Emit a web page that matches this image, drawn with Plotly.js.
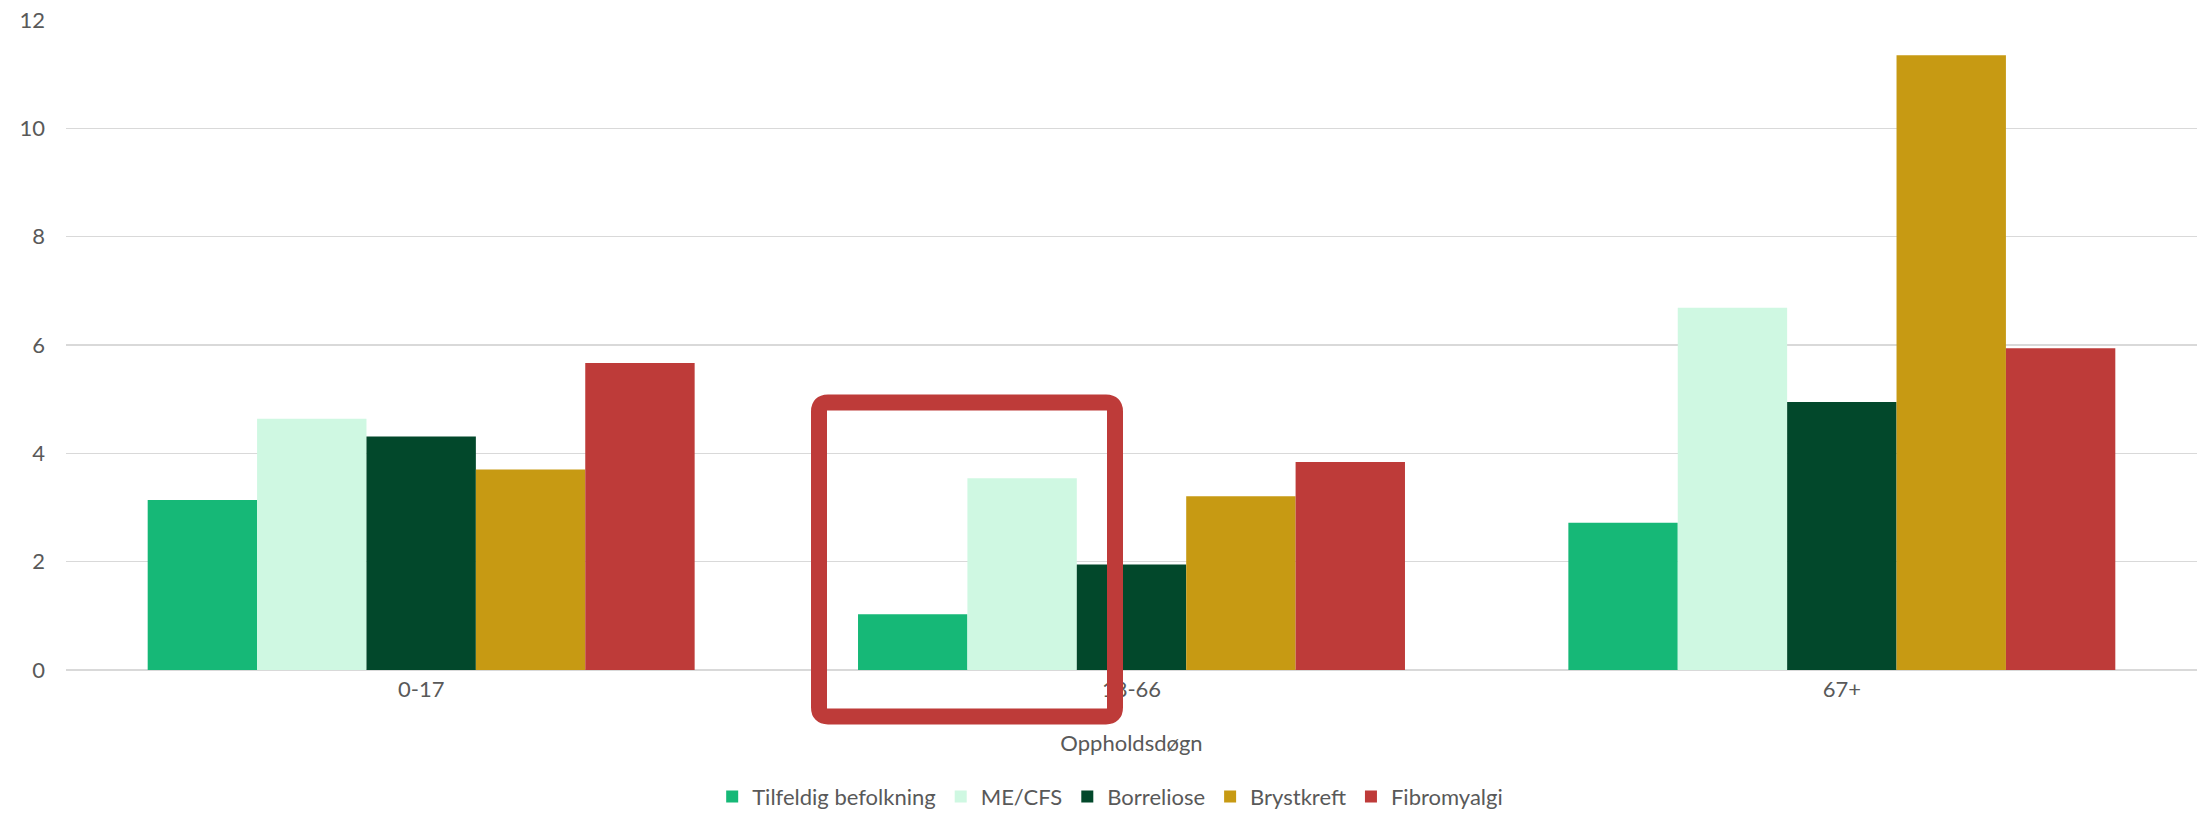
<!DOCTYPE html>
<html>
<head>
<meta charset="utf-8">
<script src="https://cdn.plot.ly/plotly-3.0.1.min.js"></script>
<style>html,body{margin:0;padding:0;background:#fff}#chart{width:2201px;height:813px}</style>
</head>
<body>
<div id="chart"></div>
<script>
const categories = ["0-17", "18-66", "67+"];
const seriesNames = ["Tilfeldig befolkning", "ME/CFS", "Borreliose", "Brystkreft", "Fibromyalgi"];
const tilfeldig = [3.14, 1.03, 2.72];
const mecfs = [4.64, 3.54, 6.69];
const borreliose = [4.31, 1.95, 4.95];
const brystkreft = [3.70, 3.21, 11.35];
const fibromyalgi = [5.67, 3.84, 5.94];
const colors = ["#16b877", "#cff8e2", "#02482b", "#c79a13", "#be3b39"];
const yTicks = [0, 2, 4, 6, 8, 10, 12];
const xTitle = "Oppholdsdøgn";

const values = [tilfeldig, mecfs, borreliose, brystkreft, fibromyalgi];
const traces = values.map((v, i) => ({
  type: "bar",
  name: seriesNames[i],
  x: categories,
  y: v,
  marker: {color: colors[i], line: {width: 0}},
  hoverinfo: "x+y+name"
}));

const fontFam = "Lato, 'Open Sans', sans-serif";
const fs = 22;
const layout = {
  width: 2201, height: 813,
  margin: {l: 66, r: 4, t: 20, b: 143},
  paper_bgcolor: "#ffffff",
  plot_bgcolor: "#ffffff",
  barmode: "group",
  bargap: 0.23,
  bargroupgap: 0,
  font: {family: fontFam, size: fs, color: "#595959"},
  xaxis: {
    type: "category",
    showgrid: false,
    showline: false,
    zeroline: false,
    ticks: "",
    ticklabelstandoff: 4,
    tickfont: {family: fontFam, size: fs, color: "#595959"},
    title: {text: xTitle, standoff: 34, font: {family: fontFam, size: fs, color: "#595959"}}
  },
  yaxis: {
    range: [0, 12],
    tickvals: yTicks,
    ticktext: yTicks.map(String),
    showgrid: true,
    gridcolor: "#d9d9d9",
    gridwidth: 1.5,
    zeroline: true,
    zerolinecolor: "#d9d9d9",
    zerolinewidth: 1.5,
    showline: false,
    ticks: "",
    ticklabelstandoff: 20,
    tickfont: {family: fontFam, size: fs, color: "#595959"}
  },
  legend: {
    orientation: "h",
    x: 0.49, xanchor: "center",
    yref: "container", y: 0.02, yanchor: "middle",
    font: {family: fontFam, size: fs, color: "#595959"},
    itemwidth: 30,
    traceorder: "normal"
  },
  showlegend: true,
  shapes: [(function(){
    const W = 2201 - 66 - 4, H = 813 - 20 - 143;
    const x0 = (819 - 66) / W, x1 = (1115 - 66) / W;
    const yT = (669.6 - 402) / H, yB = (669.6 - 716) / H;
    const rx = 9 / W, ry = 9 / H;
    const p = `M ${x0 + rx} ${yT} L ${x1 - rx} ${yT} Q ${x1} ${yT} ${x1} ${yT - ry} ` +
              `L ${x1} ${yB + ry} Q ${x1} ${yB} ${x1 - rx} ${yB} ` +
              `L ${x0 + rx} ${yB} Q ${x0} ${yB} ${x0} ${yB + ry} ` +
              `L ${x0} ${yT - ry} Q ${x0} ${yT} ${x0 + rx} ${yT} Z`;
    return {type: "path", xref: "paper", yref: "paper", path: p, layer: "above",
            line: {color: "#be3b39", width: 16}, fillcolor: "rgba(0,0,0,0)"};
  })()]
};

Plotly.newPlot("chart", traces, layout, {displayModeBar: false, staticPlot: true});
</script>
</body>
</html>
